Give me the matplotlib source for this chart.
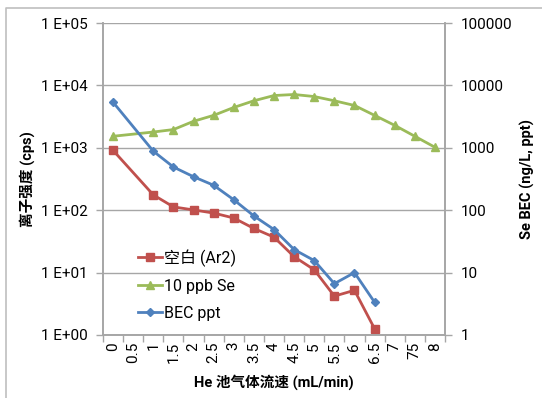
import numpy as np
import matplotlib
matplotlib.use("Agg")
import matplotlib.pyplot as plt
from matplotlib.lines import Line2D

plt.rcParams['font.family'] = ['Roboto', 'Noto Sans CJK SC', 'DejaVu Sans']

categories = ["0", "0.5", "1", "1.5", "2", "2.5", "3", "3.5", "4", "4.5",
              "5", "5.5", "6", "6.5", "7", "75", "8"]
nan = np.nan
blank_ar2 = [910, nan, 176, 113, 101, 90, 75, 51, 37, 18, 11.1, 4.2, 5.2, 1.26,
             nan, nan, nan]
se_10ppb = [1530, nan, 1790, 1960, 2660, 3310, 4430, 5670, 6880, 7150, 6630,
            5670, 4770, 3310, 2290, 1530, 1020]
bec_ppt = [5380, nan, 883, 492, 344, 251, 147, 81, 49, 23.4, 15.6, 6.65, 10,
           3.35, nan, nan, nan]

W, H = 542, 398
fig = plt.figure(figsize=(W / 100, H / 100), dpi=100)
L, R, T, B = 103, 445, 23, 335
ax = fig.add_axes([L / W, 1 - B / H, (R - L) / W, (B - T) / H])
ax2 = ax.twinx()

# outer chart border
fig.add_artist(Line2D([6 / W, 6 / W, 1.0], [0.0, 1 - 8 / H, 1 - 8 / H],
                      transform=fig.transFigure, color='#bfbfbf', lw=1.2))

x = np.arange(len(categories))

def plot_series(a, vals, color, marker, ms, label):
    v = np.array(vals, dtype=float)
    m = ~np.isnan(v)
    return a.plot(x[m], v[m], color=color, lw=2.0, marker=marker, ms=ms,
                  mfc=color, mec=color, label=label, zorder=3)[0]

red = '#C0504D'
green = '#9BBB59'
blue = '#4F81BD'

l1 = plot_series(ax, blank_ar2, red, 's', 5.5, '空白 (Ar2)')
l2 = plot_series(ax, se_10ppb, green, '^', 5.5, '10 ppb Se')
l3 = plot_series(ax2, bec_ppt, blue, 'D', 4.2, 'BEC ppt')

for a in (ax, ax2):
    a.set_yscale('log')
    a.set_ylim(1, 1e5)
    a.set_xlim(-0.5, len(categories) - 0.5)
    a.minorticks_off()

ax.set_yticks([1, 10, 100, 1e3, 1e4, 1e5])
ax.set_yticklabels(['1 E+00', '1 E+01', '1 E+02', '1 E+03', '1 E+04', '1 E+05'])
ax2.set_yticks([1, 10, 100, 1e3, 1e4, 1e5])
ax2.set_yticklabels(['1', '10', '100', '1000', '10000', '100000'])
ax2.minorticks_off()

ax.yaxis.grid(True, color='#a6a6a6', lw=1.0)
ax.set_axisbelow(True)

ax.set_xticks(x)
ax.set_xticklabels(categories, rotation=90, fontsize=11)
ax.tick_params(axis='x', length=0, pad=5)
ax.set_xticks(np.arange(-0.5, len(categories)), minor=True)
ax.tick_params(axis='x', which='minor', length=5, color='#a6a6a6', width=1)

ax.tick_params(axis='y', labelsize=11, length=5, color='#a6a6a6', width=1, pad=6)
ax2.tick_params(axis='y', labelsize=11, length=5, color='#a6a6a6', width=1, pad=6)

for a in (ax, ax2):
    a.spines['top'].set_visible(False)
    for s in ('left', 'right', 'bottom'):
        a.spines[s].set_color('#a6a6a6')
        a.spines[s].set_linewidth(1.2)

ax.set_ylabel('离子强度 (cps)', fontsize=10.5, fontweight='bold', labelpad=4)
ax2.set_ylabel('Se BEC (ng/L, ppt)', fontsize=10.5, fontweight='bold',
               rotation=90, labelpad=6)
ax.set_xlabel('He 池气体流速 (mL/min)', fontsize=10.5, fontweight='bold', labelpad=8)

ax2.legend([l1, l2, l3], ['空白 (Ar2)', '10 ppb Se', 'BEC ppt'],
           loc='lower left', bbox_to_anchor=(0.06, 0.0), frameon=False,
           fontsize=11.5, handlelength=1.5, labelspacing=0.75, handletextpad=0.15)

fig.savefig('out.png', dpi=100)
